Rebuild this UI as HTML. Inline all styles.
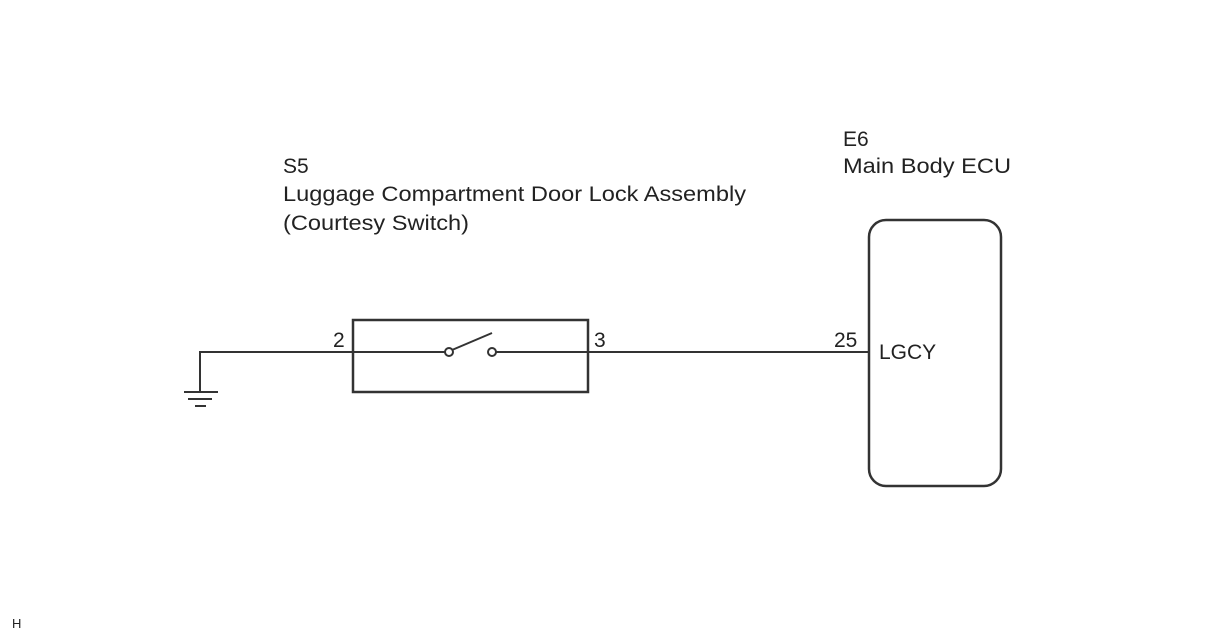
<!DOCTYPE html>
<html><head><meta charset="utf-8"><style>html,body{margin:0;padding:0;background:#fff;}svg{display:block;}</style></head>
<body>
<svg width="1206" height="642" viewBox="0 0 1206 642" xmlns="http://www.w3.org/2000/svg" font-family="Liberation Sans, Arial, sans-serif" fill="#222">
<g font-size="21">
<text x="283" y="173">S5</text>
<text x="283" y="201" textLength="463" lengthAdjust="spacingAndGlyphs">Luggage Compartment Door Lock Assembly</text>
<text x="283" y="230" textLength="186" lengthAdjust="spacingAndGlyphs">(Courtesy Switch)</text>
<text x="843" y="146">E6</text>
<text x="843" y="173" textLength="168" lengthAdjust="spacingAndGlyphs">Main Body ECU</text>
<text x="333" y="347">2</text>
<text x="594" y="347">3</text>
<text x="834" y="347">25</text>
<text x="879" y="359">LGCY</text>
</g>
<text x="12" y="628" font-size="13">H</text>
<g stroke="#333" fill="none">
<path d="M200 392 V352 H445 M496 352 H869" stroke-width="2"/>
<rect x="353" y="320" width="235" height="72" stroke-width="2.5"/>
<circle cx="449" cy="352" r="4" fill="#fff" stroke-width="2"/>
<circle cx="492" cy="352" r="4" fill="#fff" stroke-width="2"/>
<line x1="452" y1="350" x2="492" y2="333" stroke-width="2"/>
<line x1="184" y1="392" x2="218" y2="392" stroke-width="2"/>
<line x1="188" y1="399" x2="212" y2="399" stroke-width="2"/>
<line x1="195" y1="406" x2="206" y2="406" stroke-width="2"/>
<rect x="869" y="220" width="132" height="266" rx="17" stroke-width="2.5"/>
</g>
</svg>
</body></html>
